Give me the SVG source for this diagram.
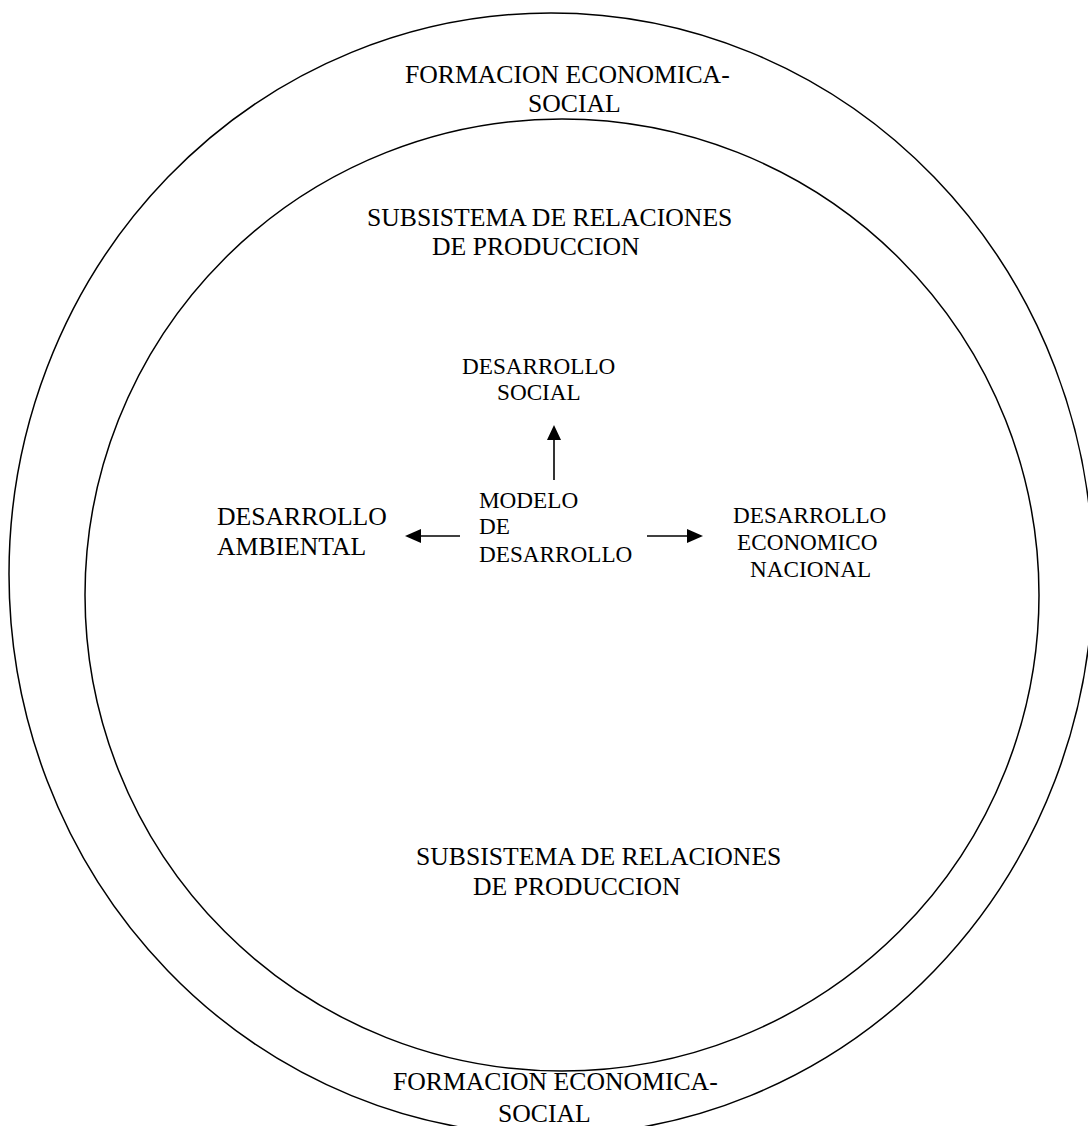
<svg xmlns="http://www.w3.org/2000/svg" width="1088" height="1126" viewBox="0 0 1088 1126">
<style>
.ring{fill:none;stroke:#000;stroke-width:1.5}
.big{font-family:"Liberation Serif","Times New Roman",serif;font-size:25.7px;fill:#000}
.mid{font-family:"Liberation Serif","Times New Roman",serif;font-size:23.2px;fill:#000}
.shaft{stroke:#000;stroke-width:1.6;fill:none}
.head{fill:#000;stroke:none}
</style>
<rect x="0" y="0" width="1088" height="1126" fill="#fff"/>
<g id="formacion-outer">
<ellipse class="ring" cx="551" cy="574" rx="542" ry="561"/>
<text class="big" x="405" y="83">FORMACION ECONOMICA-</text>
<text class="big" x="528" y="112">SOCIAL</text>
<text class="big" x="393" y="1090">FORMACION ECONOMICA-</text>
<text class="big" x="498" y="1122">SOCIAL</text>
</g>
<g id="subsistema-inner">
<ellipse class="ring" cx="562" cy="595" rx="477" ry="476"/>
<text class="big" x="367" y="226">SUBSISTEMA DE RELACIONES</text>
<text class="big" x="432" y="255">DE PRODUCCION</text>
<text class="big" x="416" y="865">SUBSISTEMA DE RELACIONES</text>
<text class="big" x="473" y="895">DE PRODUCCION</text>
</g>
<g id="desarrollo-social">
<text class="mid" x="462" y="374">DESARROLLO</text>
<text class="mid" x="497" y="400">SOCIAL</text>
</g>
<g id="modelo-desarrollo">
<text class="mid" x="479" y="508">MODELO</text>
<text class="mid" x="479" y="534">DE</text>
<text class="mid" x="479" y="562">DESARROLLO</text>
</g>
<g id="desarrollo-ambiental">
<text class="big" x="217" y="525">DESARROLLO</text>
<text class="big" x="217" y="555">AMBIENTAL</text>
</g>
<g id="desarrollo-economico">
<text class="mid" x="733" y="523">DESARROLLO</text>
<text class="mid" x="737" y="550">ECONOMICO</text>
<text class="mid" x="750" y="577">NACIONAL</text>
</g>
<g id="connectors">
<line class="shaft" x1="554" y1="480" x2="554" y2="438"/>
<polygon class="head" points="554,425 547,440 561,440"/>
<line class="shaft" x1="460" y1="536" x2="419" y2="536"/>
<polygon class="head" points="405,536 421,529 421,543"/>
<line class="shaft" x1="647" y1="536" x2="689" y2="536"/>
<polygon class="head" points="703,536 687,529 687,543"/>
</g>
</svg>
